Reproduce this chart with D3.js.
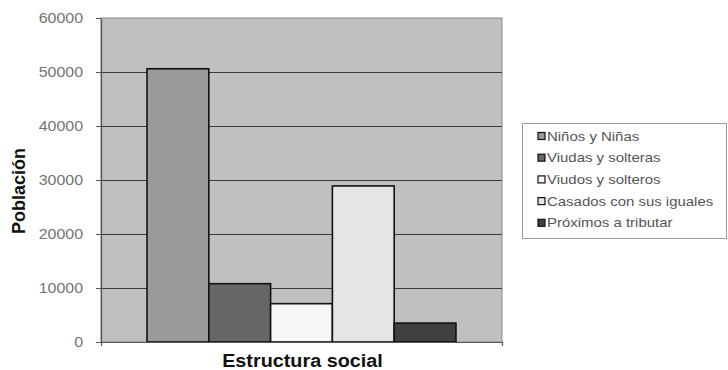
<!DOCTYPE html>
<html>
<head>
<meta charset="utf-8">
<script src="https://cdn.jsdelivr.net/npm/d3@7"></script>
<style>
  html, body { margin: 0; padding: 0; background: #ffffff; }
  svg { display: block; }
</style>
</head>
<body>
<svg id="chart" width="728" height="370"></svg>
<script>
// Social structure of the population
const categories = ["Estructura social"];
const seriesNames = ["Niños y Niñas", "Viudas y solteras", "Viudos y solteros", "Casados con sus iguales", "Próximos a tributar"];
const seriesValues = [50600, 10800, 7100, 28900, 3500];
const seriesColors = ["#9a9a9a", "#666666", "#f6f6f6", "#e5e5e5", "#404040"];
const yTicks = [0, 10000, 20000, 30000, 40000, 50000, 60000];

const FONT = "Arial, 'Liberation Sans', sans-serif";
const svg = d3.select("#chart");
const plot = { left: 101, right: 502, top: 18, bottom: 342 };

// widen a text node horizontally by a factor
function stretch(sel, k) {
  sel.each(function () {
    const w = this.getComputedTextLength();
    d3.select(this).attr("textLength", w * k).attr("lengthAdjust", "spacingAndGlyphs");
  });
}

const y = d3.scaleLinear().domain([0, 60000]).range([plot.bottom, plot.top]);
const x0 = d3.scaleBand().domain(categories).range([plot.left, plot.right])
  .paddingInner(0).paddingOuter(0.149);
const x1 = d3.scaleBand().domain(seriesNames).range([0, x0.bandwidth()]).padding(0);

// plot background
svg.append("rect")
  .attr("x", plot.left).attr("y", plot.top)
  .attr("width", plot.right - plot.left).attr("height", plot.bottom - plot.top)
  .attr("fill", "#c0c0c0").attr("stroke", "#8a8a8a").attr("stroke-width", 1);

// gridlines
svg.append("g").selectAll("line")
  .data(yTicks.filter(d => d > 0 && d < 60000))
  .join("line")
  .attr("x1", plot.left).attr("x2", plot.right)
  .attr("y1", d => Math.round(y(d)) + 0.5).attr("y2", d => Math.round(y(d)) + 0.5)
  .attr("stroke", "#3a3a3a").attr("stroke-width", 1);

// bars
const group = svg.append("g").selectAll("g")
  .data(categories)
  .join("g")
  .attr("transform", d => `translate(${x0(d)},0)`);

group.selectAll("rect")
  .data(() => seriesNames.map((name, i) => ({ name, value: seriesValues[i], color: seriesColors[i] })))
  .join("rect")
  .attr("x", d => x1(d.name))
  .attr("y", d => y(d.value))
  .attr("width", x1.bandwidth())
  .attr("height", d => y(0) - y(d.value))
  .attr("fill", d => d.color)
  .attr("stroke", "#111111")
  .attr("stroke-width", 1.6);

// y axis
const yAxis = d3.axisLeft(y).tickValues(yTicks).tickSize(5).tickSizeOuter(0).tickPadding(13)
  .tickFormat(d3.format("d"));
const gy = svg.append("g").attr("transform", `translate(${plot.left},0)`).call(yAxis);
gy.select(".domain").attr("stroke", "#555555").attr("stroke-width", 1.2);
gy.selectAll(".tick line").attr("stroke", "#555555");
gy.selectAll(".tick text")
  .attr("fill", "#747474")
  .style("font-family", FONT)
  .style("font-size", "14px")
  .call(stretch, 1.14);

// x axis baseline with end ticks
const xAxis = d3.axisBottom(x0).tickValues([]).tickSizeOuter(4);
const gx = svg.append("g").attr("transform", `translate(0,${plot.bottom})`).call(xAxis);
gx.select(".domain").attr("stroke", "#555555").attr("stroke-width", 1.2);

// axis titles
svg.append("text")
  .attr("x", (plot.left + plot.right) / 2 + 1).attr("y", 367)
  .attr("text-anchor", "middle")
  .style("font-family", FONT)
  .style("font-weight", "bold").style("font-size", "18px")
  .attr("fill", "#111111")
  .text(categories[0])
  .call(stretch, 1.1);

svg.append("text")
  .attr("transform", `translate(25,${191}) rotate(-90)`)
  .attr("text-anchor", "middle")
  .style("font-family", FONT)
  .style("font-weight", "bold").style("font-size", "18px")
  .attr("fill", "#111111")
  .text("Población");

// legend
const legend = svg.append("g").attr("transform", "translate(522,123)");
legend.append("rect")
  .attr("x", 0.5).attr("y", 0.5).attr("width", 204).attr("height", 115)
  .attr("fill", "#ffffff").attr("stroke", "#9a9a9a").attr("stroke-width", 1);

const items = legend.selectAll("g.item")
  .data(seriesNames)
  .join("g")
  .attr("class", "item")
  .attr("transform", (d, i) => `translate(16,${13 + i * 21.7})`);

items.append("rect")
  .attr("x", 0).attr("y", -3.5).attr("width", 7).attr("height", 7)
  .attr("fill", (d, i) => seriesColors[i])
  .attr("stroke", "#111111").attr("stroke-width", 1.2);

items.append("text")
  .attr("x", 9).attr("y", 0).attr("dy", "0.35em")
  .style("font-family", FONT)
  .style("font-size", "13px")
  .attr("fill", "#555555")
  .text(d => d)
  .call(stretch, 1.15);
</script>
</body>
</html>
